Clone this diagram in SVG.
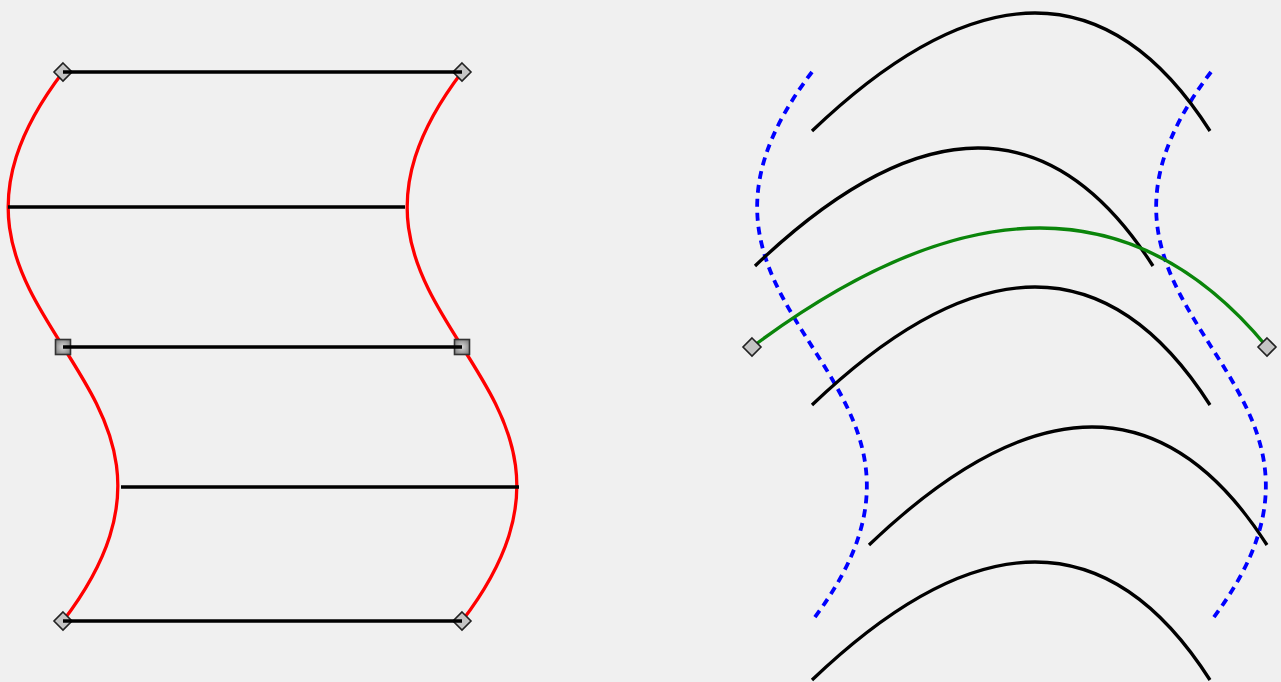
<svg xmlns="http://www.w3.org/2000/svg" width="1281" height="682" viewBox="0 0 1281 682">
<style>
.red{fill:none;stroke:#ff0000;stroke-width:3.3}
.blk{fill:none;stroke:#000;stroke-width:3.3}
.blue{fill:none;stroke:#0000ff;stroke-width:3.8;stroke-dasharray:8 6}
.grn{fill:none;stroke:#0a850a;stroke-width:3.3}
.dia{fill:#c4c4c4;stroke:#222;stroke-width:1.6}
.sq{fill:url(#sqg);stroke:#333;stroke-width:1.6}
</style>
<defs>
<radialGradient id="sqg" cx="0.5" cy="0.5" r="0.6">
<stop offset="0" stop-color="#d8d8d8"/>
<stop offset="1" stop-color="#808080"/>
</radialGradient>
<path id="d" d="M0,-9 L9,0 L0,9 L-9,0 Z" class="dia"/>
<rect id="s" x="-7.5" y="-7.5" width="15" height="15" class="sq"/>
</defs>
<rect width="1281" height="682" fill="#f0f0f0"/>
<g id="connectors">
<path class="red" d="M63,72 C-127,321 253,372 63,621"/>
<path class="red" d="M462,72 C272,321 652,372 462,621"/>
<path class="blue" d="M812,72 C622,321 1002,372 812,621"/>
<path class="blue" d="M1211,72 C1021,321 1401,372 1211,621"/>
<path class="blk" d="M812,131 Q1059,-105 1210,131"/>
<path class="blk" d="M755,266 Q1002,30 1153,266"/>
<path class="blk" d="M812,405 Q1059,169 1210,405"/>
<path class="blk" d="M869,545 Q1116,309 1267,545"/>
<path class="blk" d="M812,680 Q1059,444 1210,680"/>
<path class="grn" d="M752,347 Q1070.5,109 1267,347"/>
</g>
<g id="markers">
<use href="#d" x="63" y="72"/>
<use href="#d" x="462" y="72"/>
<use href="#d" x="63" y="621"/>
<use href="#d" x="462" y="621"/>
<use href="#s" x="63" y="347"/>
<use href="#s" x="462" y="347"/>
<use href="#d" x="752" y="347"/>
<use href="#d" x="1267" y="347"/>
</g>
<g id="rungs">
<path class="blk" d="M63,72 H462 M8,207 H405 M63,347 H462 M121,487 H519 M63,621 H462"/>
</g>
</svg>
